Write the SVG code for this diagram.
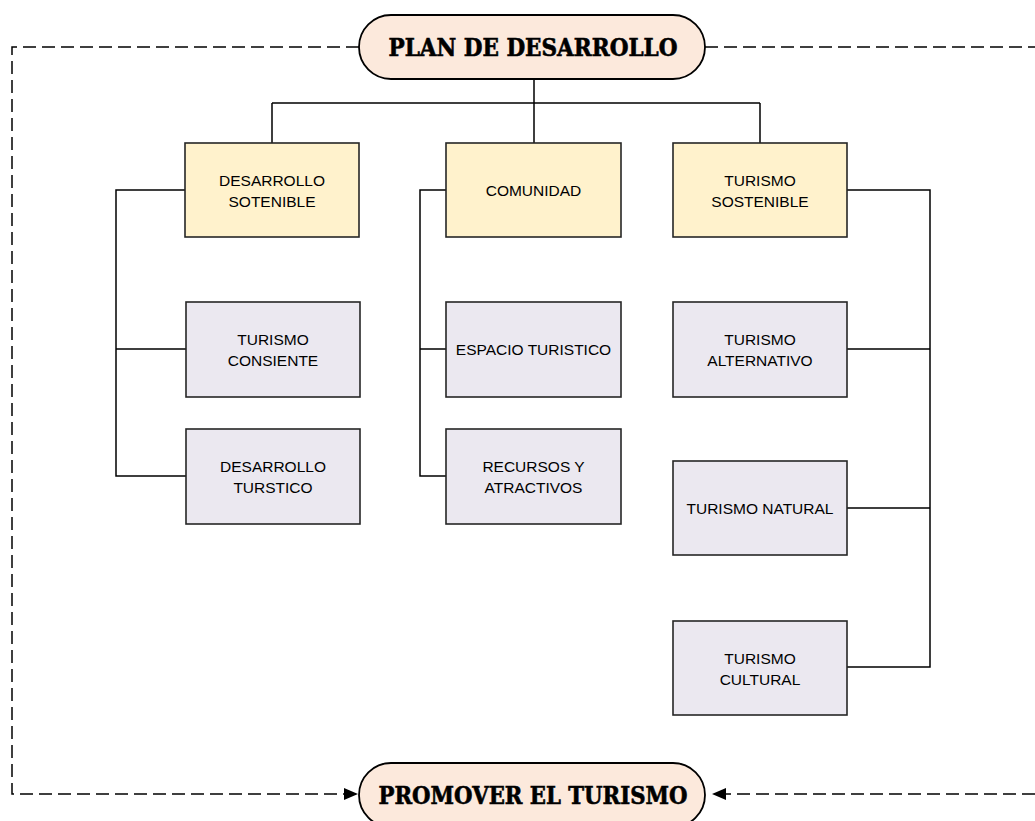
<svg xmlns="http://www.w3.org/2000/svg" width="1035" height="821" viewBox="0 0 1035 821">
<style>
.pill{fill:#FCE9DC;stroke:#000;stroke-width:1.8}
.top{fill:#FFF2CC;stroke:#262626;stroke-width:1.6}
.sub{fill:#EBE8F0;stroke:#262626;stroke-width:1.6}
.t{font-family:"Liberation Sans",Arial,sans-serif;font-size:15.5px;fill:#000;text-anchor:middle}
.p{font-family:"DejaVu Serif Condensed","DejaVu Serif",serif;font-weight:bold;font-size:25px;fill:#000;stroke:#000;stroke-width:0.6;text-anchor:middle}
.ln{fill:none;stroke:#000;stroke-width:1.5}
.ds{fill:none;stroke:#000;stroke-width:1.5;stroke-dasharray:13 6}
</style>
<defs>
<marker id="ah" markerUnits="userSpaceOnUse" markerWidth="16" markerHeight="14" refX="14" refY="6" orient="auto">
<path d="M0,0 L14,6 L0,12 Z" fill="#000"/>
</marker>
</defs>
<rect width="1035" height="821" fill="#fff"/>
<g id="connectors">
<path class="ln" d="M534,79 V103 M272,103 H760 M272,103 V143 M534,103 V143 M760,103 V143"/>
<path class="ln" d="M185,190 H116 V476 H186 M116,349 H186"/>
<path class="ln" d="M446,190 H420 V476 H446 M420,349 H446"/>
<path class="ln" d="M847,190 H930 V667 H847 M847,349 H930 M847,508 H930"/>
<path class="ds" d="M359,47 H12 V794 H358" marker-end="url(#ah)"/>
<path class="ds" d="M705,47 H1035"/>
<path class="ds" d="M1035,794 H712" marker-end="url(#ah)"/>
</g>
<g id="plan">
<rect class="pill" x="359" y="15" width="346" height="64" rx="32"/>
<text class="p" x="533" y="56" textLength="289" lengthAdjust="spacingAndGlyphs">PLAN DE DESARROLLO</text>
</g>
<g id="promover">
<rect class="pill" x="359" y="763" width="346" height="64" rx="32"/>
<text class="p" x="533" y="804" textLength="309" lengthAdjust="spacingAndGlyphs">PROMOVER EL TURISMO</text>
</g>
<g id="desarrollo-sotenible">
<rect class="top" x="185" y="143" width="174" height="94"/>
<text class="t" x="272" y="186">DESARROLLO</text>
<text class="t" x="272" y="207">SOTENIBLE</text>
</g>
<g id="comunidad">
<rect class="top" x="446" y="143" width="175" height="94"/>
<text class="t" x="533.5" y="196">COMUNIDAD</text>
</g>
<g id="turismo-sostenible">
<rect class="top" x="673" y="143" width="174" height="94"/>
<text class="t" x="760" y="186">TURISMO</text>
<text class="t" x="760" y="207">SOSTENIBLE</text>
</g>
<g id="turismo-consiente">
<rect class="sub" x="186" y="302" width="174" height="95"/>
<text class="t" x="273" y="345">TURISMO</text>
<text class="t" x="273" y="366">CONSIENTE</text>
</g>
<g id="desarrollo-turstico">
<rect class="sub" x="186" y="429" width="174" height="95"/>
<text class="t" x="273" y="472">DESARROLLO</text>
<text class="t" x="273" y="493">TURSTICO</text>
</g>
<g id="espacio-turistico">
<rect class="sub" x="446" y="302" width="175" height="95"/>
<text class="t" x="533.5" y="355">ESPACIO TURISTICO</text>
</g>
<g id="recursos">
<rect class="sub" x="446" y="429" width="175" height="95"/>
<text class="t" x="533.5" y="472">RECURSOS Y</text>
<text class="t" x="533.5" y="493">ATRACTIVOS</text>
</g>
<g id="turismo-alternativo">
<rect class="sub" x="673" y="302" width="174" height="95"/>
<text class="t" x="760" y="345">TURISMO</text>
<text class="t" x="760" y="366">ALTERNATIVO</text>
</g>
<g id="turismo-natural">
<rect class="sub" x="673" y="461" width="174" height="94"/>
<text class="t" x="760" y="514">TURISMO NATURAL</text>
</g>
<g id="turismo-cultural">
<rect class="sub" x="673" y="621" width="174" height="94"/>
<text class="t" x="760" y="664">TURISMO</text>
<text class="t" x="760" y="685">CULTURAL</text>
</g>
</svg>
